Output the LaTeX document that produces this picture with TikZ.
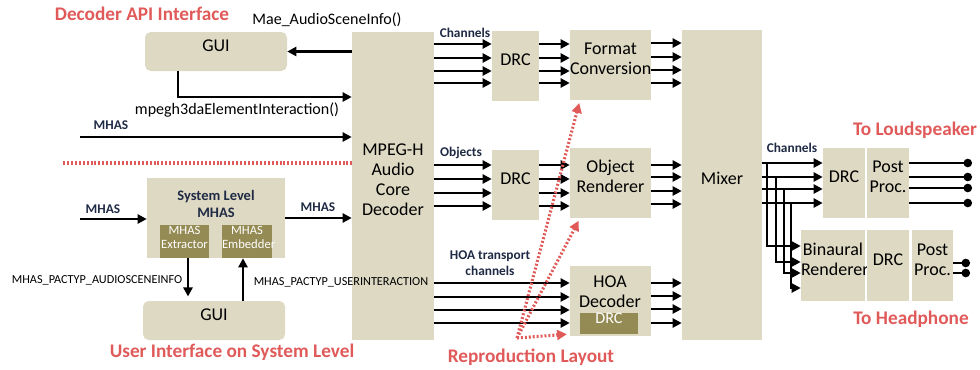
\documentclass[tikz,border=0pt]{standalone}
\usepackage{fontspec}
\setmainfont{Carlito}
\usetikzlibrary{arrows.meta,fit,calc}
\definecolor{beige}{HTML}{DDD9C3}
\definecolor{olive}{HTML}{948A54}
\definecolor{redlbl}{HTML}{E05A5A}
\definecolor{navy}{HTML}{1F2A44}
\tikzset{
  blk/.style={fill=beige, inner sep=0pt, align=center, font=\fontsize{12.8}{14.2}\selectfont},
  gui/.style={blk, rounded corners=4pt},
  sub/.style={fill=olive, text=white, inner sep=0pt, align=center, font=\fontsize{9}{10}\selectfont},
  sig/.style={line width=1.9pt, -{Triangle[length=6.5pt,width=6.5pt]}},
  tag/.style={text=navy, align=center, font=\bfseries\fontsize{9.5}{11}\selectfont},
  ttl/.style={text=redlbl, font=\bfseries\fontsize{13.7}{15}\selectfont},
  fn/.style={font=\fontsize{11.4}{13}\selectfont},
  pkt/.style={font=\fontsize{8.7}{10}\selectfont},
  repro/.style={redlbl, line width=2.2pt, dash pattern=on 1.4pt off 1.4pt, -{Triangle[length=7pt,width=7pt]}},
  endpt/.style={line width=1.9pt, -{Circle[length=6pt]}},
}
\begin{document}
\begin{tikzpicture}[x=0.025cm, y=-0.025cm]
\useasboundingbox (0,0) rectangle (980,369);
% blocks
\node[gui, fit={(145,32) (287,71)}] (guiA) {GUI};
\node[gui, fit={(143,301) (285,340)}] (guiB) {GUI};
\node[blk, fit={(147,178) (285,258)}] (sys) {};
\node[tag, font=\bfseries\fontsize{10.3}{12}\selectfont] (sysname) at (216,204) {System Level\\MHAS};
\node[sub, fit={(160,225) (209,258)}] (ext) {MHAS\\Extractor};
\node[sub, fit={(222,225) (272,258)}] (emb) {MHAS\\Embedder};
\node[blk, fit={(352,32) (434,340)}] (core) {MPEG-H\\Audio\\Core\\Decoder};
\node[blk, fit={(492,31) (539,101)}] (drcA) {DRC};
\node[blk, fit={(492,150) (539,220)}] (drcB) {DRC};
\node[blk, fit={(570,30) (651,100)}] (fmt) {Format\\Conversion};
\node[blk, fit={(570,148) (651,218)}] (obj) {Object\\Renderer};
\node[blk, fit={(570,266) (651,336)}] (hoa) {};
\node[blk, fill=none] (hoatxt) at (610,292) {HOA\\Decoder};
\node[sub, fit={(580,313) (638,334)}, font=\fontsize{11.5}{12}\selectfont] (hoadrc) {DRC};
\node[blk, fit={(682,30) (762,340)}] (mix) {Mixer};
\node[blk, fit={(823,148) (865,218)}] (drcC) {DRC};
\node[blk, fit={(867,148) (909,218)}] (postA) {Post\\Proc.};
\node[blk, fit={(801,230) (865,301)}] (bin) {Binaural\\Renderer};
\node[blk, fit={(867,230) (909,301)}] (drcD) {DRC};
\node[blk, fit={(912,230) (953,301)}] (postB) {Post\\Proc.};
% labels
\node[ttl] (lblApi) at (142,14) {Decoder API Interface};
\node[ttl] (lblUser) at (232,352) {User Interface on System Level};
\node[ttl] (lblRepro) at (531,357) {Reproduction Layout};
\node[ttl] (lblLs) at (915,130) {To Loudspeaker};
\node[ttl] (lblHp) at (911,319) {To Headphone};
\node[fn] (lblMae) at (327,20) {Mae\_AudioSceneInfo()};
\node[fn] (lblElem) at (237,110) {mpegh3daElementInteraction()};
\node[pkt] (lblInfo) at (97,280) {MHAS\_PACTYP\_AUDIOSCENEINFO};
\node[pkt] (lblUi) at (341,282) {MHAS\_PACTYP\_USERINTERACTION};
\node[tag] (lblMhasA) at (111,125) {MHAS};
\node[tag] (lblMhasB) at (103,209) {MHAS};
\node[tag] (lblMhasC) at (318,207) {MHAS};
\node[tag] (lblCh) at (465,33) {Channels};
\node[tag] (lblObj) at (461,153) {Objects};
\node[tag] (lblHoa) at (490,263) {HOA transport\\channels};
\node[tag] (lblMixCh) at (792,148) {Channels};
% decoder API side
\coordinate (inA) at (80,137);
\coordinate (inB) at (80,219);
\coordinate (sepL) at (63,163);
\draw[sig] (core.west |- guiA.east) -- (guiA.east);
\draw[sig] (guiA.south -| 178,0) |- (core.west |- 0,97);
\draw[sig] (inA) -- (core.west |- inA);
\draw[redlbl, line width=2.2pt, dash pattern=on 1.4pt off 1.4pt] (sepL) -- (core.west |- sepL);
% system level side
\draw[sig] (inB) -- (sys.west |- inB);
\draw[sig] (sys.east |- 0,218) -- (core.west |- 0,218);
\draw[sig, shorten >=3pt] (ext.south -| 188,0) -- (guiB.north -| 188,0);
\draw[sig] (guiB.north -| 243,0) -- (emb.south -| 243,0);
% channel paths
\foreach \y in {44,58,71,83}{
  \draw[sig] (core.east |- 0,\y) -- (drcA.west |- 0,\y);
  \draw[sig] (drcA.east |- 0,\y) -- (fmt.west |- 0,\y);
}
\foreach \y in {43,57,70,83} \draw[sig] (fmt.east |- 0,\y) -- (mix.west |- 0,\y);
% object paths
\foreach \y in {165,179,193,206}{
  \draw[sig] (core.east |- 0,\y) -- (drcB.west |- 0,\y);
  \draw[sig] (drcB.east |- 0,\y) -- (obj.west |- 0,\y);
}
\foreach \y in {165,177,191,204} \draw[sig] (obj.east |- 0,\y) -- (mix.west |- 0,\y);
% HOA paths
\foreach \y in {283,297,310,323} \draw[sig] (core.east |- 0,\y) -- (hoa.west |- 0,\y);
\foreach \y in {283,296,309,323} \draw[sig] (hoa.east |- 0,\y) -- (mix.west |- 0,\y);
% mixer outputs
\foreach \y/\x/\yb in {163/767/246,177/776/262,189/784/273,203/791/288}{
  \draw[sig] (mix.east |- 0,\y) -- (drcC.west |- 0,\y);
  \draw[sig] (\x,\y) |- (bin.west |- 0,\yb);
}
\foreach \y in {163,177,188,203} \draw[endpt] (postA.east |- 0,\y) -- (972,\y);
\foreach \y in {263,273} \draw[endpt] (postB.east |- 0,\y) -- (970,\y);
% reproduction layout
\coordinate (rl) at (517,338);
\draw[repro, shorten >=2pt] (rl) -- (hoa.west |- 0,334);
\draw[repro, shorten >=2pt] (rl) -- (obj.south -| 580,0);
\draw[repro, shorten >=2pt] (rl) -- (fmt.south -| 580,0);
\end{tikzpicture}
\end{document}
